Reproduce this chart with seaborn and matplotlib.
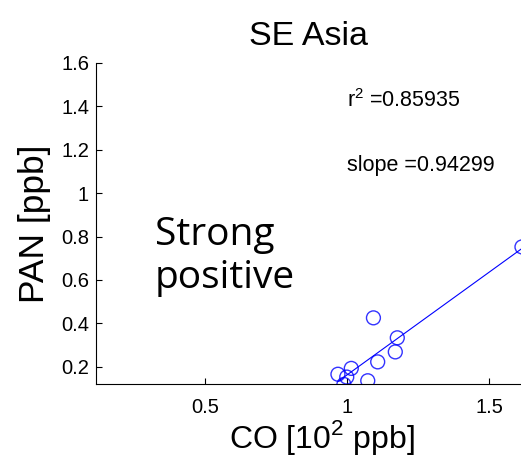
import numpy as np
import pandas as pd
import matplotlib
matplotlib.use("Agg")
import matplotlib.pyplot as plt
import seaborn as sns

# values
co = [1.615, 1.092, 1.176, 1.169, 1.107, 1.014, 0.967, 0.998, 0.988, 1.072]
pan = [0.752, 0.425, 0.333, 0.268, 0.222, 0.192, 0.165, 0.152, 0.118, 0.135]
x_ticks = [0.5, 1, 1.5]
y_ticks = [0.2, 0.4, 0.6, 0.8, 1, 1.2, 1.4, 1.6]
r2_text = "r$^2$ =0.85935"
slope_text = "slope =0.94299"

df = pd.DataFrame({"CO": co, "PAN": pan})

sns.set_style("ticks")
plt.rcParams['font.family'] = ['Liberation Sans', 'DejaVu Sans']
plt.rcParams['mathtext.fontset'] = 'custom'
plt.rcParams['mathtext.rm'] = 'Liberation Sans'
plt.rcParams['text.color'] = 'black'
plt.rcParams['axes.labelcolor'] = 'black'

fig = plt.figure(figsize=(5.21, 4.68), dpi=100)
ax = fig.add_axes([96 / 521, 1 - 384 / 468, 1 - 96 / 521 + 0.01, (384 - 63) / 468])

sns.regplot(data=df, x="CO", y="PAN", ax=ax, ci=None, marker="o",
            scatter_kws={"facecolors": "none", "edgecolors": "blue", "s": 100, "linewidths": 1.0},
            line_kws={"color": "blue", "lw": 0.8})

ax.set_xlim(0.115, 1.63)
ax.set_ylim(0.12, 1.6)
ax.set_xticks(x_ticks)
ax.set_xticklabels(["0.5", "1", "1.5"])
ax.set_yticks(y_ticks)
ax.set_yticklabels(["0.2", "0.4", "0.6", "0.8", "1", "1.2", "1.4", "1.6"])
ax.tick_params(direction="in", labelsize=14.5, length=4, width=0.8, colors="black")
ax.tick_params(axis="x", pad=10)
ax.tick_params(axis="y", pad=5)
for s in ["top", "right"]:
    ax.spines[s].set_visible(False)
for s in ["left", "bottom"]:
    ax.spines[s].set_linewidth(0.8)
    ax.spines[s].set_color("black")

ax.set_xlabel("CO [10$^2$ ppb]", fontsize=23)
ax.xaxis.set_label_coords(0.525, -0.105)
ax.set_ylabel("PAN [ppb]", fontsize=25.5, labelpad=7)
ax.set_title("SE Asia", fontsize=24.5, pad=13, x=0.494)

ax.text(1.0, 1.395, r2_text, fontsize=15.5)
ax.text(1.0, 1.10, slope_text, fontsize=15.5)
ax.text(0.322, 0.762, "Strong", fontsize=28, family=["Open Sans", "DejaVu Sans"], va="baseline")
ax.text(0.322, 0.562, "positive", fontsize=28, family=["Open Sans", "DejaVu Sans"], va="baseline")

fig.savefig("out.png", dpi=100)
